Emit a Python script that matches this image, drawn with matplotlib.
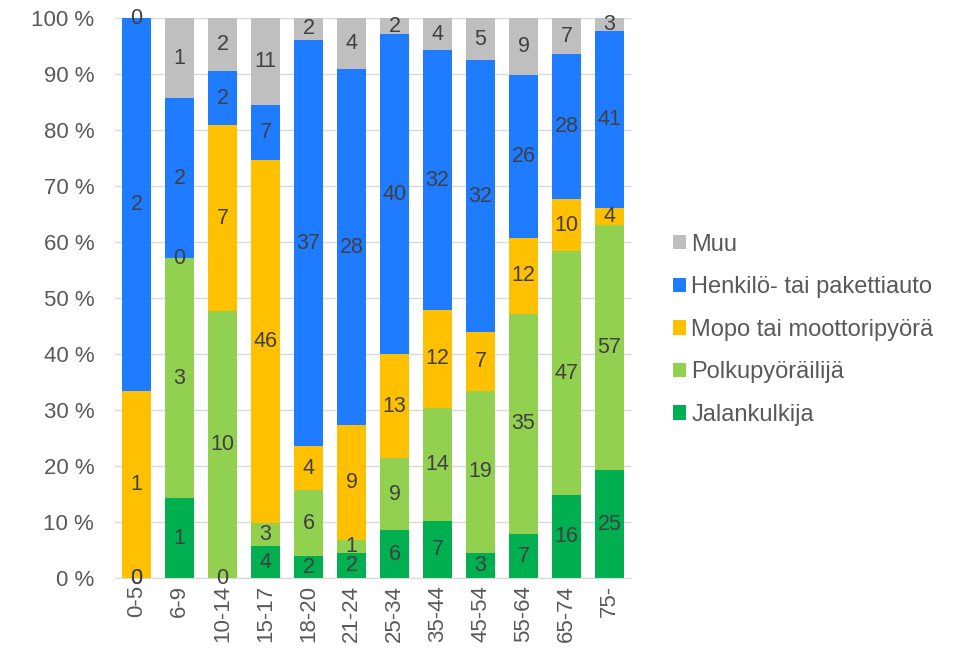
import numpy as np
import matplotlib
matplotlib.use('Agg')
import matplotlib.pyplot as plt

plt.rcParams['font.family'] = ['Liberation Sans', 'DejaVu Sans']

# ikaryhmat ja lukumaarat (alhaalta ylos)
ages = ['0-5', '6-9', '10-14', '15-17', '18-20', '21-24', '25-34',
        '35-44', '45-54', '55-64', '65-74', '75-']
jalankulkija = [0, 1, 0, 4, 2, 2, 6, 7, 3, 7, 16, 25]
polkupyora = [0, 3, 10, 3, 6, 1, 9, 14, 19, 35, 47, 57]
mopo = [1, 0, 7, 46, 4, 9, 13, 12, 7, 12, 10, 4]
auto = [2, 2, 2, 7, 37, 28, 40, 32, 32, 26, 28, 41]
muu = [0, 1, 2, 11, 2, 4, 2, 4, 5, 9, 7, 3]

names = ['Jalankulkija', 'Polkupyöräilijä', 'Mopo tai moottoripyörä',
         'Henkilö- tai pakettiauto', 'Muu']
colors = ['#00B050', '#92D050', '#FFC000', '#1F7BFF', '#BFBFBF']

data = np.array([jalankulkija, polkupyora, mopo, auto, muu], dtype=float)
total = data.sum(axis=0)
pct = data / total * 100

fig = plt.figure(figsize=(9.62, 6.57), dpi=100)
ax = fig.add_axes([0.1195, 0.1202, 0.5365, 0.8524])

x = np.arange(len(ages))
bottom = np.zeros(len(ages))
handles = []
for i in range(len(names)):
    b = ax.bar(x, pct[i], bottom=bottom, width=0.69, color=colors[i],
               label=names[i], zorder=2)
    handles.append(b)
    for j in range(len(ages)):
        ax.text(x[j], bottom[j] + pct[i][j] / 2, '%d' % data[i][j],
                ha='center', va='center', fontsize=15.5, color='#404040',
                zorder=3)
    bottom = bottom + pct[i]

ax.set_xlim(-0.5, len(ages) - 0.5)
ax.set_ylim(0, 100)
ax.set_yticks(np.arange(0, 101, 10))
ax.set_yticklabels(['%d %%' % v for v in range(0, 101, 10)])
ax.set_xticks(x)
ax.set_xticklabels(ages, rotation=90)
ax.tick_params(axis='both', length=0, labelsize=16, colors='#595959')
ax.tick_params(axis='y', pad=15)
ax.tick_params(axis='x', pad=5)
ax.grid(axis='y', color='#D9D9D9', linewidth=1, zorder=0)
ax.set_axisbelow(True)
for s in ['top', 'right', 'left']:
    ax.spines[s].set_visible(False)
ax.spines['bottom'].set_color('#D9D9D9')

fig.legend(handles[::-1], names[::-1], loc='center left',
           bbox_to_anchor=(0.6996, 0.498), frameon=False, fontsize=17,
           handlelength=0.55, handleheight=0.55, handletextpad=0.22,
           labelspacing=0.87, borderpad=0, borderaxespad=0,
           labelcolor='#595959')

fig.savefig('out.png', dpi=100)
